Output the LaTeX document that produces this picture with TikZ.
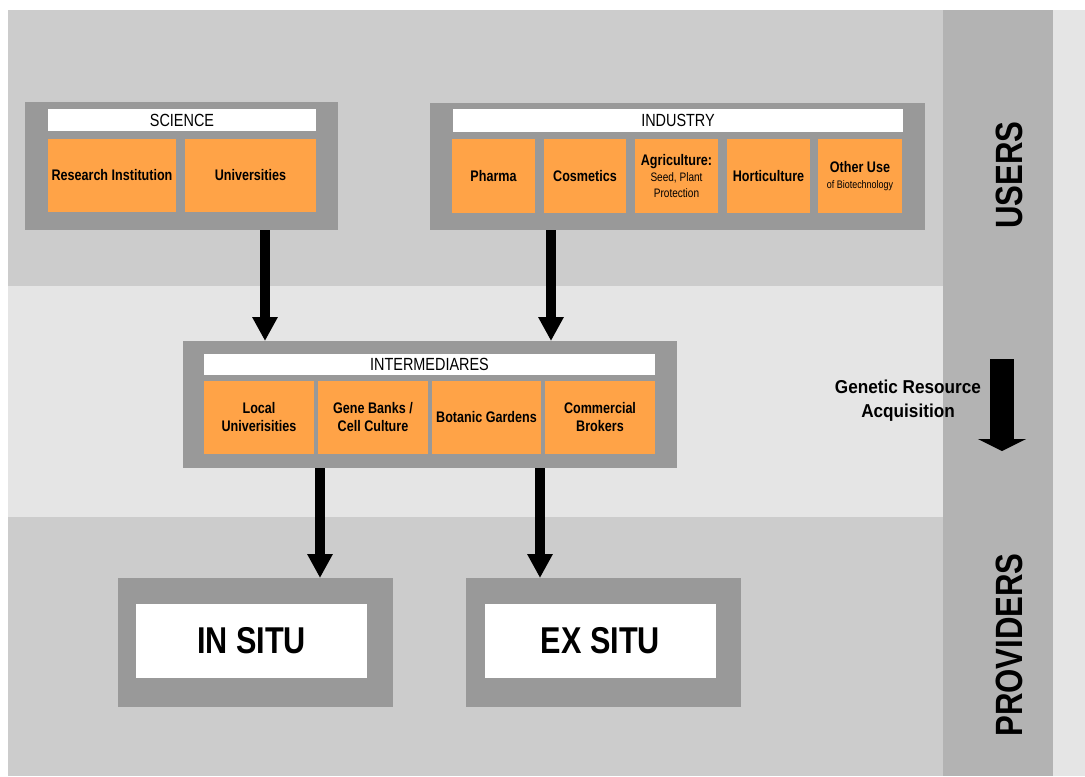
\documentclass[tikz,border=0pt]{standalone}
\usepackage{fontspec}
\setmainfont{Liberation Sans}[FakeStretch=0.82]
\newfontfamily\acqfont{Liberation Sans}[FakeStretch=0.92]
\usetikzlibrary{arrows.meta,fit}

\definecolor{bandgray}{HTML}{CCCCCC}
\definecolor{midgray}{HTML}{E5E5E5}
\definecolor{colgray}{HTML}{B3B3B3}
\definecolor{boxgray}{HTML}{999999}
\definecolor{itemorange}{HTML}{FFA347}

\newcommand{\agrismall}{\fontsize{9.2}{12}\selectfont\mdseries}
\newcommand{\biosmall}{\fontsize{8.2}{12}\selectfont\mdseries}

\tikzset{
	grpbox/.style={fill=boxgray, inner sep=0, outer sep=0},
	titlebar/.style={fill=white, inner sep=0, outer sep=0},
	titletext/.style={inner sep=0, font=\fontsize{13.2}{15}\selectfont},
	item/.style={fill=itemorange, inner sep=0, outer sep=0},
	itemtext/.style={inner sep=0, align=center, font=\fontsize{11.5}{13.5}\selectfont\bfseries},
	sitebox/.style={fill=white, inner sep=0, outer sep=0},
	sitetext/.style={inner sep=0, font=\fontsize{28}{30}\selectfont\bfseries},
	flow/.style={line width=7.5pt, -{Triangle[width=18pt,length=18pt]}},
	bigflow/.style={line width=18pt, -{Triangle[width=36pt,length=9pt]}},
	sidelabel/.style={rotate=90, inner sep=0, font=\fontsize{28.5}{30}\selectfont\bfseries},
}

\begin{document}
\begin{tikzpicture}[x=0.75pt, y=-0.75pt]
	\useasboundingbox (0,0) rectangle (1085,776);
	\fill [white] (0,0) rectangle (1085,776);
	\fill [bandgray] (8,10) rectangle (943,286);
	\fill [midgray] (8,286) rectangle (943,517);
	\fill [bandgray] (8,517) rectangle (943,776);
	\fill [colgray] (943,10) rectangle (1053,776);
	\fill [midgray] (1053,10) rectangle (1085,776);

	% users
	\node [grpbox, fit={(25,102) (338,230)}] (sci) {};
	\node [titlebar, fit={(48,109) (316,131)}, label={[titletext]center:SCIENCE}] (scititle) {};
	\node [item, fit={(48,139) (176,212)}, label={[itemtext]center:Research Institution}] (resinst) {};
	\node [item, fit={(185,139) (316,212)}, label={[itemtext]center:Universities}] (univ) {};

	\node [grpbox, fit={(430,103) (925,230)}] (ind) {};
	\node [titlebar, fit={(453,109) (903,132)}, label={[titletext]center:INDUSTRY}] (indtitle) {};
	\node [item, fit={(452,139) (535,213)}, label={[itemtext]center:Pharma}] (pharma) {};
	\node [item, fit={(544,139) (626,213)}, label={[itemtext]center:Cosmetics}] (cosm) {};
	\node [item, fit={(635,139) (718,213)}, label={[itemtext]center:{Agriculture:\\[-1.5pt]\agrismall Seed, Plant\\[-1.5pt]\agrismall Protection}}] (agri) {};
	\node [item, fit={(727,139) (810,213)}, label={[itemtext]center:Horticulture}] (hort) {};
	\node [item, fit={(818,139) (902,213)}, label={[itemtext]center:{Other Use\\[-1.5pt]\biosmall of Biotechnology}}] (other) {};

	% intermediares
	\node [grpbox, fit={(183,341) (677,468)}] (inter) {};
	\node [titlebar, fit={(204,354) (655,375)}, label={[titletext]center:INTERMEDIARES}] (intertitle) {};
	\node [item, fit={(204,381) (314,454)}, label={[itemtext]center:{Local\\Univerisities}}] (localuni) {};
	\node [item, fit={(318,381) (428,454)}, label={[itemtext]center:{Gene Banks /\\Cell Culture}}] (genebank) {};
	\node [item, fit={(432,381) (541,454)}, label={[itemtext]center:Botanic Gardens}] (botanic) {};
	\node [item, fit={(545,381) (655,454)}, label={[itemtext]center:{Commercial\\Brokers}}] (broker) {};

	% providers
	\node [grpbox, fit={(118,578) (393,707)}] (insitu) {};
	\node [sitebox, fit={(136,604) (367,678)}, label={[sitetext]center:IN SITU}] (insitutext) {};
	\node [grpbox, fit={(466,578) (741,707)}] (exsitu) {};
	\node [sitebox, fit={(485,604) (716,678)}, label={[sitetext]center:EX SITU}] (exsitutext) {};

	\coordinate (sciarr) at (265,0);
	\coordinate (indarr) at (551,0);
	\coordinate (inarr) at (320,0);
	\coordinate (exarr) at (540,0);
	\draw [flow] (sci.south -| sciarr) -- (inter.north -| sciarr);
	\draw [flow] (ind.south -| indarr) -- (inter.north -| indarr);
	\draw [flow] (inter.south -| inarr) -- (insitu.north -| inarr);
	\draw [flow] (inter.south -| exarr) -- (exsitu.north -| exarr);

	% side column
	\node [sidelabel] (users) at (1009,175) {USERS};
	\node [sidelabel] (providers) at (1009,645) {PROVIDERS};
	\coordinate (acqtop) at (1002,359);
	\coordinate (acqtip) at (1002,451);
	\draw [bigflow] (acqtop) -- (acqtip);
	\node [align=center, font=\acqfont\bfseries\fontsize{14}{18}\selectfont] (acq) at (908,401) {Genetic Resource\\Acquisition};

\end{tikzpicture}
\end{document}
